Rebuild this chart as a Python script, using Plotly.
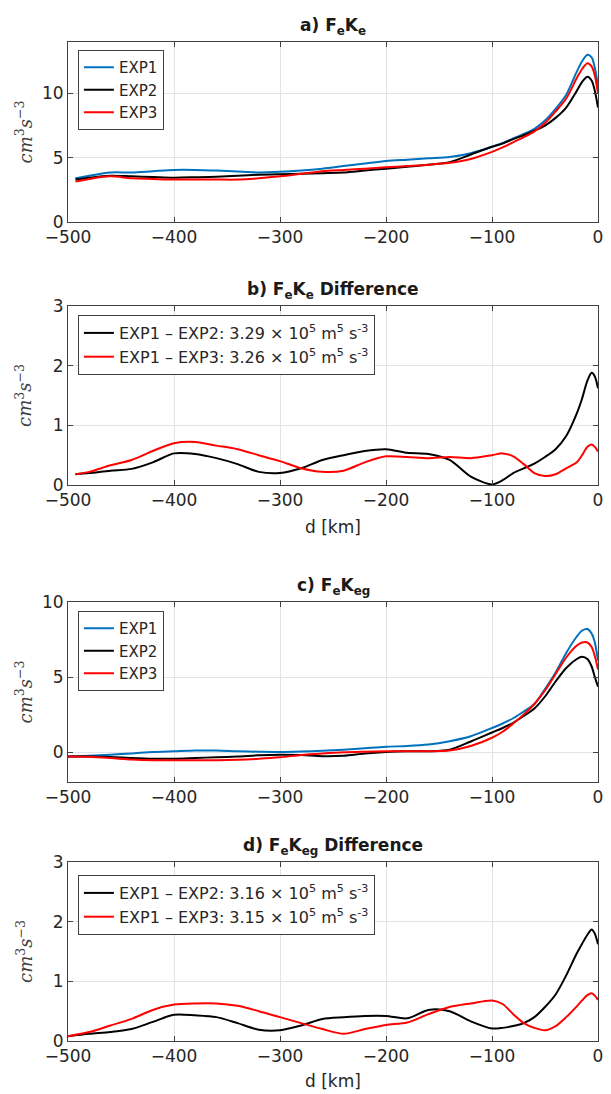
import plotly.graph_objects as go

# ---------------- data ----------------
x_ab = [-493, -480, -460, -440, -420, -400, -380, -360, -340, -320, -300, -280, -260, -240, -220, -200,
        -180, -160, -140, -120, -100, -90, -80, -70, -60, -50, -40, -30, -20, -15, -10, -6, -3, 0]
x_cd = [-500, -480, -460, -440, -420, -400, -380, -360, -340, -320, -300, -280, -260, -240, -220, -200,
        -180, -160, -140, -120, -100, -90, -80, -70, -60, -50, -40, -30, -20, -15, -10, -6, -3, 0]

a_exp1 = [3.4, 3.6, 3.85, 3.85, 3.95, 4.05, 4.05, 4.0, 3.92, 3.85, 3.9, 4.0, 4.15, 4.35, 4.55, 4.75,
          4.85, 4.95, 5.05, 5.35, 5.85, 6.15, 6.5, 6.85, 7.25, 7.9, 8.8, 9.9, 11.7, 12.5, 13.0, 12.8, 12.0, 10.6]
a_exp2 = [3.3, 3.45, 3.6, 3.55, 3.5, 3.45, 3.48, 3.52, 3.6, 3.68, 3.72, 3.75, 3.8, 3.85, 4.0, 4.15,
          4.3, 4.45, 4.65, 5.25, 5.85, 6.1, 6.45, 6.75, 7.1, 7.5, 8.1, 8.9, 10.2, 10.9, 11.3, 11.0, 10.2, 8.9]
a_exp3 = [3.15, 3.35, 3.55, 3.4, 3.35, 3.3, 3.3, 3.3, 3.3, 3.4, 3.55, 3.75, 3.95, 4.05, 4.15, 4.25,
          4.35, 4.45, 4.6, 4.9, 5.45, 5.8, 6.2, 6.6, 7.05, 7.7, 8.6, 9.6, 11.2, 11.9, 12.35, 12.1, 11.4, 10.0]

b_d12 = [0.18, 0.2, 0.24, 0.27, 0.38, 0.53, 0.52, 0.45, 0.35, 0.22, 0.2, 0.28, 0.42, 0.5, 0.57, 0.6,
         0.54, 0.52, 0.42, 0.14, 0.01, 0.08, 0.2, 0.28, 0.36, 0.47, 0.6, 0.82, 1.2, 1.45, 1.75, 1.88, 1.82, 1.62]
b_d13 = [0.18, 0.22, 0.33, 0.42, 0.57, 0.7, 0.72, 0.66, 0.6, 0.5, 0.4, 0.28, 0.22, 0.24, 0.38, 0.48,
         0.47, 0.45, 0.47, 0.45, 0.5, 0.53, 0.48, 0.35, 0.2, 0.15, 0.18, 0.28, 0.38, 0.5, 0.64, 0.68, 0.64, 0.56]

c_exp1 = [-0.3, -0.25, -0.18, -0.1, 0.0, 0.05, 0.1, 0.1, 0.05, 0.02, 0.0, 0.03, 0.08, 0.15, 0.25, 0.35,
          0.4, 0.5, 0.72, 1.05, 1.6, 1.9, 2.25, 2.7, 3.2, 4.2, 5.3, 6.6, 7.7, 8.1, 8.2, 7.9, 7.3, 6.1]
c_exp2 = [-0.3, -0.3, -0.33, -0.4, -0.45, -0.45, -0.4, -0.35, -0.3, -0.22, -0.18, -0.2, -0.28, -0.25, -0.1, 0.0,
          0.05, 0.05, 0.15, 0.7, 1.3, 1.6, 1.95, 2.4, 2.9, 3.7, 4.7, 5.6, 6.2, 6.35, 6.2, 5.7, 5.0, 4.35]
c_exp3 = [-0.3, -0.32, -0.4, -0.5, -0.55, -0.55, -0.55, -0.55, -0.52, -0.45, -0.35, -0.2, -0.1, -0.02, 0.02, 0.05,
          0.05, 0.05, 0.1, 0.4, 0.95, 1.35, 1.9, 2.5, 3.2, 4.1, 5.2, 6.3, 7.1, 7.3, 7.3, 7.0, 6.4, 5.5]

d_d12 = [0.08, 0.12, 0.15, 0.2, 0.32, 0.44, 0.43, 0.4, 0.3, 0.19, 0.18, 0.26, 0.37, 0.4, 0.42, 0.42,
         0.38, 0.52, 0.5, 0.33, 0.21, 0.22, 0.25, 0.3, 0.4, 0.57, 0.78, 1.1, 1.47, 1.63, 1.78, 1.87, 1.8, 1.62]
d_d13 = [0.08, 0.15, 0.26, 0.37, 0.52, 0.61, 0.63, 0.63, 0.59, 0.5, 0.4, 0.3, 0.2, 0.12, 0.2, 0.27,
         0.31, 0.45, 0.57, 0.63, 0.68, 0.62, 0.45, 0.3, 0.22, 0.18, 0.25, 0.4, 0.58, 0.68, 0.77, 0.8, 0.76, 0.69]

names_exp = ["EXP1", "EXP2", "EXP3"]
names_b = ["EXP1 – EXP2: 3.29 × 10<sup>5</sup> m<sup>5</sup> s<sup>-3</sup>",
           "EXP1 – EXP3: 3.26 × 10<sup>5</sup> m<sup>5</sup> s<sup>-3</sup>"]
names_d = ["EXP1 – EXP2: 3.16 × 10<sup>5</sup> m<sup>5</sup> s<sup>-3</sup>",
           "EXP1 – EXP3: 3.15 × 10<sup>5</sup> m<sup>5</sup> s<sup>-3</sup>"]
titles = ["a) F<sub>e</sub>K<sub>e</sub>", "b) F<sub>e</sub>K<sub>e</sub> Difference",
          "c) F<sub>e</sub>K<sub>eg</sub>", "d) F<sub>e</sub>K<sub>eg</sub> Difference"]
x_ticks = [-500, -400, -300, -200, -100, 0]

# ---------------- styling / layout ----------------
W, H = 611, 1094
ML, MR, MT, MB = 68, 8, 42, 53
PH = H - MT - MB
PW = W - ML - MR

def py(px):
    return (H - MB - px) / PH

def pxx(px):
    return (px - ML) / PW

FONT = "DejaVu Sans"
BLUE = "#0072BD"
BLACK = "#000000"
RED = "#FF0000"
LW = 2

frames = [(42, 222), (306, 485), (602, 782), (862, 1041)]
yranges = [[0, 14], [0, 3], [-2, 10], [0, 3]]
yticks = [[0, 5, 10], [0, 1, 2, 3], [0, 5, 10], [0, 1, 2, 3]]
legend_tops = [50, 315, 611, 875]
legend_sizes = [15, 16, 15, 16]

fig = go.Figure()

def add(x, y, name, color, i):
    fig.add_trace(go.Scatter(
        x=x, y=y, name=name, mode="lines",
        line=dict(color=color, width=LW, shape="spline", smoothing=0.8),
        xaxis="x" if i == 1 else f"x{i}", yaxis="y" if i == 1 else f"y{i}",
        legend="legend" if i == 1 else f"legend{i}",
    ))

for y, n, c in zip([a_exp1, a_exp2, a_exp3], names_exp, [BLUE, BLACK, RED]):
    add(x_ab, y, n, c, 1)
for y, n, c in zip([b_d12, b_d13], names_b, [BLACK, RED]):
    add(x_ab, y, n, c, 2)
for y, n, c in zip([c_exp1, c_exp2, c_exp3], names_exp, [BLUE, BLACK, RED]):
    add(x_cd, y, n, c, 3)
for y, n, c in zip([d_d12, d_d13], names_d, [BLACK, RED]):
    add(x_cd, y, n, c, 4)

layout = dict(
    width=W, height=H,
    margin=dict(l=ML, r=MR, t=MT, b=MB),
    paper_bgcolor="white", plot_bgcolor="white",
    font=dict(family=FONT, size=16, color="#262626"),
    showlegend=True,
)

annotations = []
for i in range(4):
    top, bot = frames[i]
    sfx = "" if i == 0 else str(i + 1)
    layout["xaxis" + sfx] = dict(
        domain=[0, 1], range=[-500, 0], tickvals=x_ticks,
        anchor="y" + sfx, showgrid=True, gridcolor="#e3e3e3", gridwidth=1,
        zeroline=False, showline=True, linecolor="#404040", linewidth=1, mirror="ticks",
        ticks="inside", ticklen=5, tickcolor="#404040",
        tickfont=dict(family=FONT, size=17, color="#262626"),
    )
    layout["yaxis" + sfx] = dict(
        domain=[py(bot), py(top)], range=yranges[i], tickvals=yticks[i],
        anchor="x" + sfx, showgrid=True, gridcolor="#e3e3e3", gridwidth=1,
        zeroline=False, showline=True, linecolor="#404040", linewidth=1, mirror="ticks",
        ticks="inside", ticklen=5, tickcolor="#404040",
        tickfont=dict(family=FONT, size=17, color="#262626"),
    )
    layout["legend" + sfx] = dict(
        x=pxx(78), y=py(legend_tops[i]), xanchor="left", yanchor="top",
        bordercolor="#404040", borderwidth=1, bgcolor="white",
        font=dict(family=FONT, size=legend_sizes[i], color="#262626"),
        tracegroupgap=0, itemwidth=30,
    )
    annotations.append(dict(
        text="<b>" + titles[i] + "</b>", xref="paper", yref="paper",
        x=0.5, y=py(top), xanchor="center", yanchor="bottom", yshift=2,
        showarrow=False, font=dict(family=FONT, size=17, color="#1a1a1a"),
    ))
    annotations.append(dict(
        text="<i>cm</i><sup>3</sup><i>s</i><sup>−3</sup>", xref="paper", yref="paper",
        x=pxx(24), y=(py(top) + py(bot)) / 2, xanchor="center", yanchor="middle",
        textangle=-90, showarrow=False,
        font=dict(family="DejaVu Serif", size=18, color="#404040"),
    ))

annotations.append(dict(text="d [km]", xref="paper", yref="paper", x=0.5, y=py(527),
                        xanchor="center", yanchor="middle", showarrow=False,
                        font=dict(family=FONT, size=17, color="#262626")))
annotations.append(dict(text="d [km]", xref="paper", yref="paper", x=0.5, y=py(1081),
                        xanchor="center", yanchor="middle", showarrow=False,
                        font=dict(family=FONT, size=17, color="#262626")))
layout["annotations"] = annotations

fig.update_layout(**layout)
fig.write_html("out.html", config={"displayModeBar": False},
               post_script="document.body.style.margin='0';document.body.style.overflow='hidden';")
